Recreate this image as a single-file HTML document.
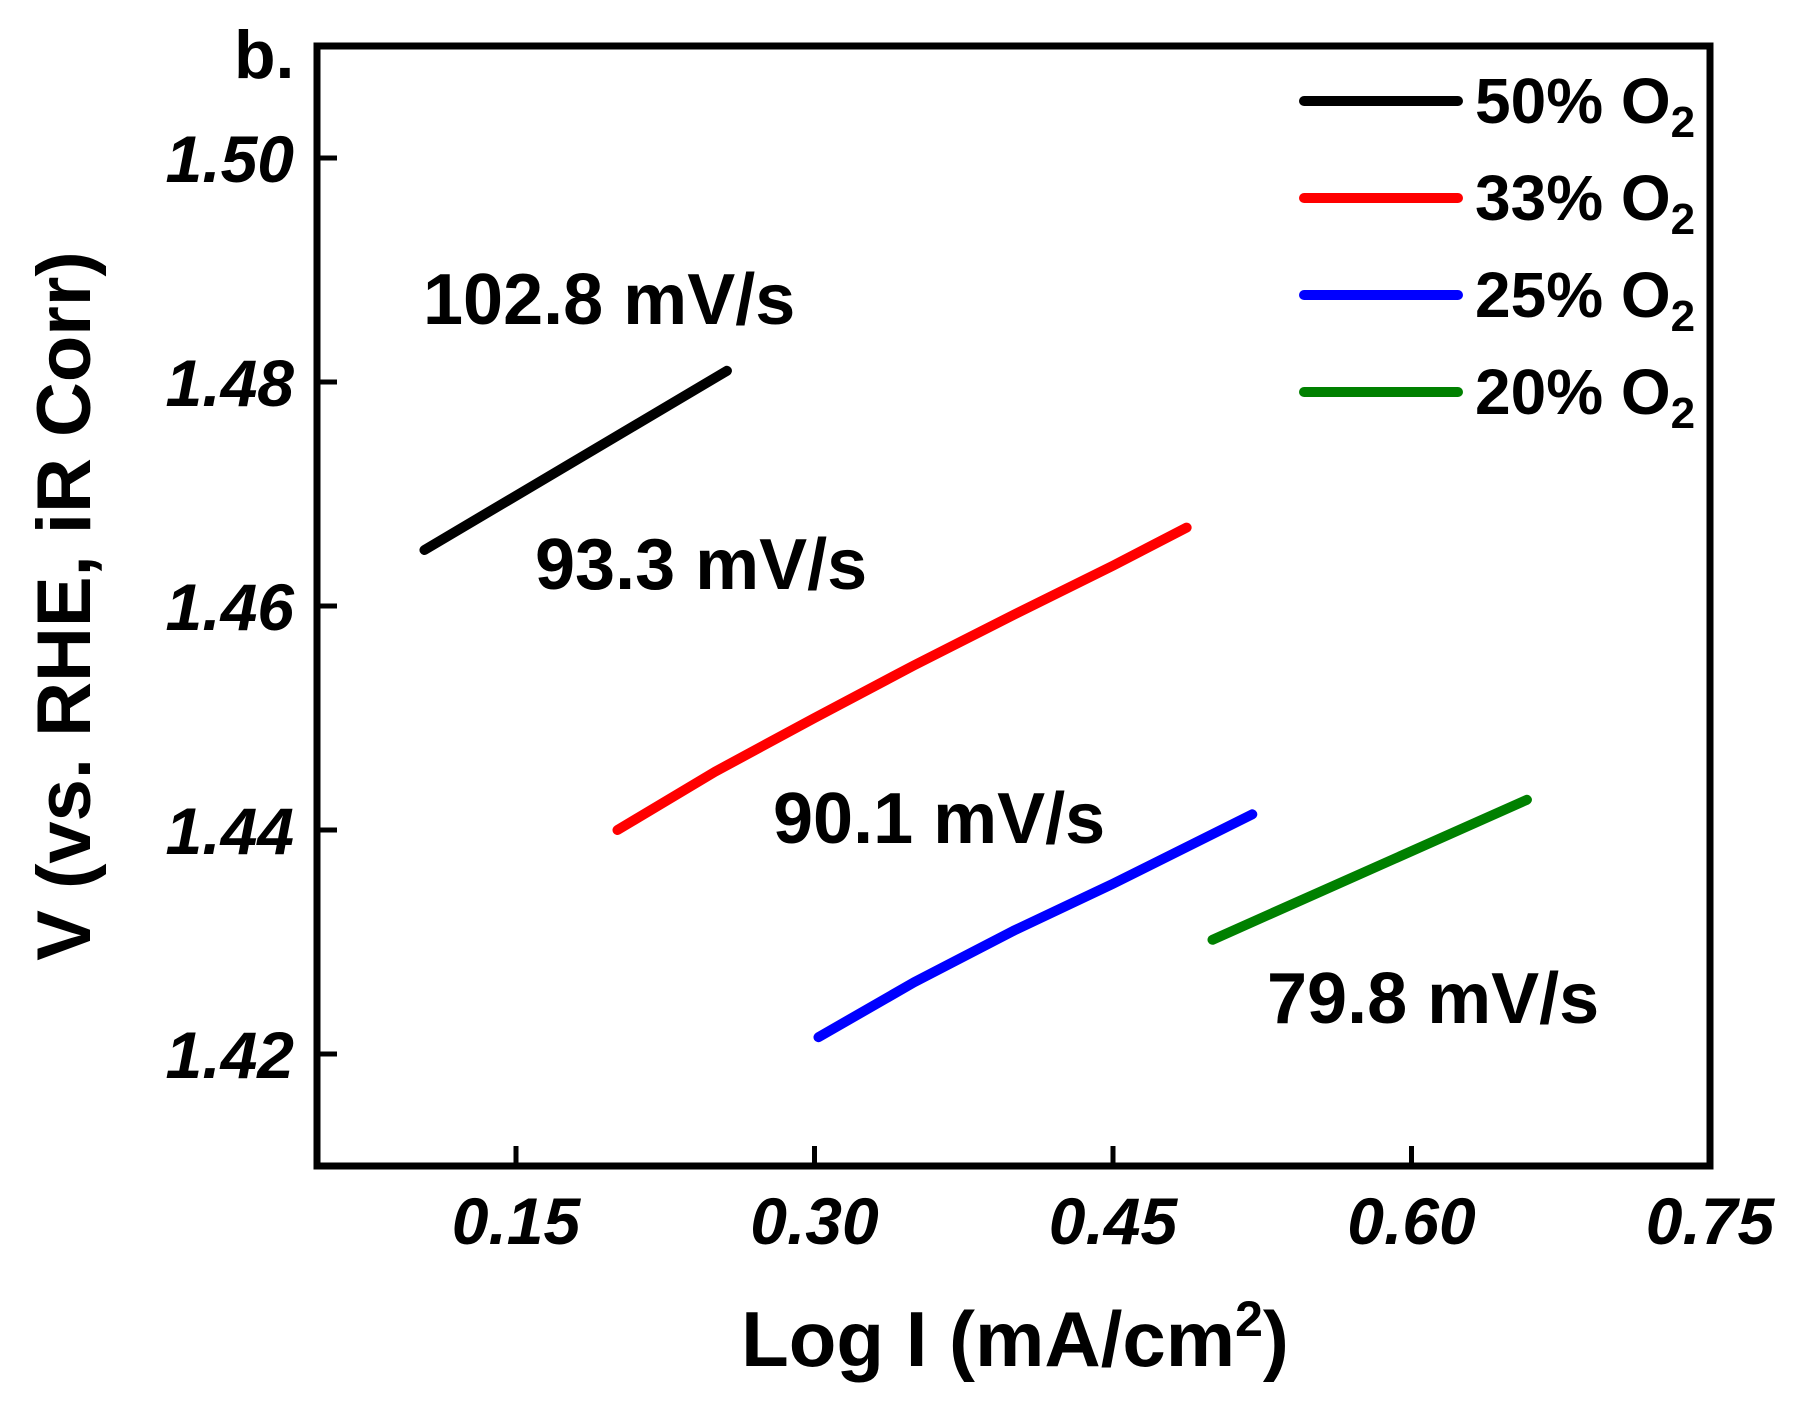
<!DOCTYPE html>
<html><head><meta charset="utf-8"><style>
html,body{margin:0;padding:0;background:#fff;}
svg{display:block;font-family:"Liberation Sans",Arial,sans-serif;font-weight:bold;}
</style></head><body>
<svg id="chart" width="1793" height="1404" viewBox="0 0 1793 1404">
<g id="plot"></g>
</svg>
<script>
const xTicks=[0.15,0.30,0.45,0.60,0.75];
const xTickLabels=["0.15","0.30","0.45","0.60","0.75"];
const yTicks=[1.42,1.44,1.46,1.48,1.50];
const yTickLabels=["1.42","1.44","1.46","1.48","1.50"];
const seriesNames=["50% O","33% O","25% O","20% O"];
const seriesColors=["#000000","#ff0000","#0000ff","#008000"];
const black_x=[0.104,0.256];
const black_y=[1.465,1.481];
const red_x=[0.201,0.25,0.30,0.35,0.40,0.45,0.487];
const red_y=[1.440,1.4452,1.4500,1.4547,1.4592,1.4636,1.467];
const blue_x=[0.302,0.35,0.40,0.45,0.52];
const blue_y=[1.4215,1.4264,1.4310,1.4352,1.4414];
const green_x=[0.500,0.658];
const green_y=[1.4302,1.4427];
const slopeLabels=["102.8 mV/s","93.3 mV/s","90.1 mV/s","79.8 mV/s"];

const L=317,R=1710,T=46,B=1166;
const xMin=0.05,xMax=0.75,yMin=1.41,yMax=1.51;
function xs(v){return L+(v-xMin)/(xMax-xMin)*(R-L);}
function ys(v){return B-(v-yMin)/(yMax-yMin)*(B-T);}
const NS="http://www.w3.org/2000/svg";
const g=document.getElementById('plot');
function mk(tag,attrs,parent){const e=document.createElementNS(NS,tag);for(const k in attrs)e.setAttribute(k,attrs[k]);(parent||g).appendChild(e);return e;}

const frame=mk('rect',{x:L,y:T,width:R-L,height:B-T,fill:'none',stroke:'#000','stroke-width':7});



xTicks.forEach((v,i)=>{
  const t=mk('line',{x1:xs(v),x2:xs(v),y1:B,y2:B-20,stroke:'#000','stroke-width':5});
  
  
  const l=mk('text',{x:xs(v),y:1244,'text-anchor':'middle','font-size':66,'font-style':'italic'});
  l.textContent=xTickLabels[i];
  
  
});
yTicks.forEach((v,i)=>{
  const t=mk('line',{x1:L,x2:L+20,y1:ys(v),y2:ys(v),stroke:'#000','stroke-width':5});
  
  
  const l=mk('text',{x:294,y:ys(v)+24,'text-anchor':'end','font-size':66,'font-style':'italic'});
  l.textContent=yTickLabels[i];
  
  
});

const allX=[black_x,red_x,blue_x,green_x],allY=[black_y,red_y,blue_y,green_y];
const sNames=['series-50-o2','series-33-o2','series-25-o2','series-20-o2'];
allX.forEach((xa,si)=>{
  const pts=xa.map((x,j)=>xs(x)+','+ys(allY[si][j])).join(' ');
  const p=mk('polyline',{points:pts,fill:'none',stroke:seriesColors[si],'stroke-width':10,'stroke-linecap':'round','stroke-linejoin':'round'});
  
  
});

const slopePos=[[423,324],[535,589],[773,843],[1267,1023]];
slopeLabels.forEach((s,i)=>{
  const t=mk('text',{x:slopePos[i][0],y:slopePos[i][1],'font-size':72});
  t.textContent=s;
  
  
});

seriesNames.forEach((n,i)=>{
  const y=101+i*97;
  const ln=mk('line',{x1:1304,x2:1458,y1:y,y2:y,stroke:seriesColors[i],'stroke-width':10,'stroke-linecap':'round'});
  
  
  const t=mk('text',{x:1475,y:y+22,'font-size':64});
  t.textContent=n;
  const sub=mk('tspan',{'font-size':44,dy:14},t);
  sub.textContent='2';
  
  
});

const b=mk('text',{x:234,y:78,'font-size':68});b.textContent='b.';



const xt=mk('text',{x:1015,y:1366,'text-anchor':'middle','font-size':78});
xt.textContent='Log I (mA/cm';
const sup=mk('tspan',{'font-size':50,dy:-30},xt);sup.textContent='2';
const cl=mk('tspan',{dy:30},xt);cl.textContent=')';



const yt=mk('text',{x:0,y:0,'text-anchor':'middle','font-size':76,transform:'translate(90,606) rotate(-90)'});
yt.textContent='V (vs. RHE, iR Corr)';


</script>
</body></html>
